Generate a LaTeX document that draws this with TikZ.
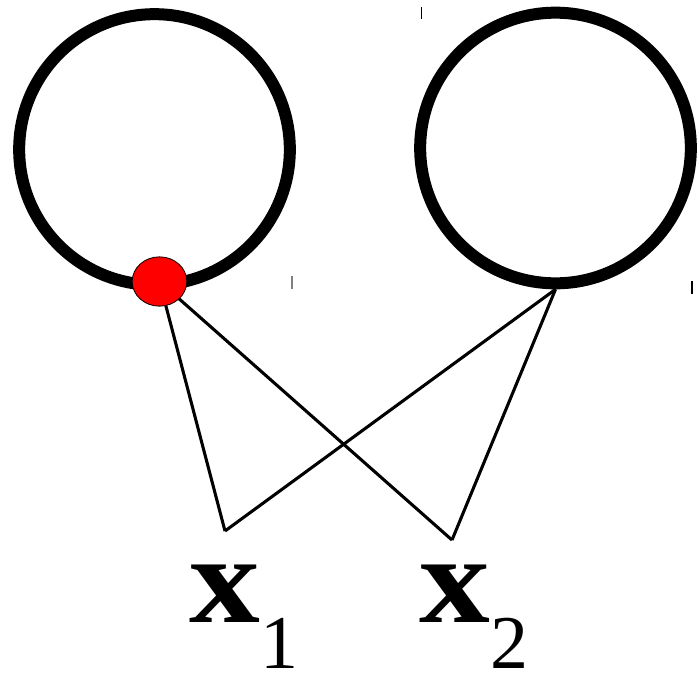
\documentclass[tikz,border=0pt]{standalone}
\usepackage{graphicx}
\usepackage{fontspec}
\setmainfont{Liberation Serif}
\usetikzlibrary{shapes.geometric}
\tikzset{
  ring/.style={draw=black, circle, line width=9pt, minimum size=203pt, inner sep=0pt},
  reddot/.style={draw=black, ellipse, fill=red, line width=0.6pt, minimum width=41pt, minimum height=37pt, inner sep=0pt},
  wire/.style={draw=black, line width=2.3pt},
  tick/.style={draw=black, line width=1pt},
  lbl/.style={inner sep=0pt, anchor=base west, font=\fontsize{94}{94}\selectfont}
}
\newcommand{\varx}{\scalebox{1.13}[1]{\textbf{x}}}
\newcommand{\subidx}[1]{\raisebox{-34.5pt}{\fontsize{57}{57}\selectfont #1}}

\begin{document}
\begin{tikzpicture}[x=0.75pt, y=-0.75pt]
\useasboundingbox (0,0) rectangle (699,675);

\node[ring] (lc) at (154.5,149.5) {};
\node[ring] (rc) at (555.5,148) {};

\coordinate (dc) at (159.5,281.5);
\coordinate (v1) at (225,531);
\coordinate (v2) at (452,540);

\draw[wire] (dc) -- (v1);
\draw[wire] (dc) -- (v2);
\draw[wire] (rc.south) -- (v1);
\draw[wire] (rc.south) -- (v2);

\node[reddot] (dot) at (dc) {};

\node[lbl] (x1) at (189,622) {\varx\subidx{1}};
\node[lbl] (x2) at (419,622) {\varx\subidx{2}};

% small marks
\draw[tick] (421.5,7) -- (421.5,19);
\draw[tick, draw=gray] (292,276) -- (292,289);
\draw[tick] (692,281) -- (692,294);

\end{tikzpicture}
\end{document}
